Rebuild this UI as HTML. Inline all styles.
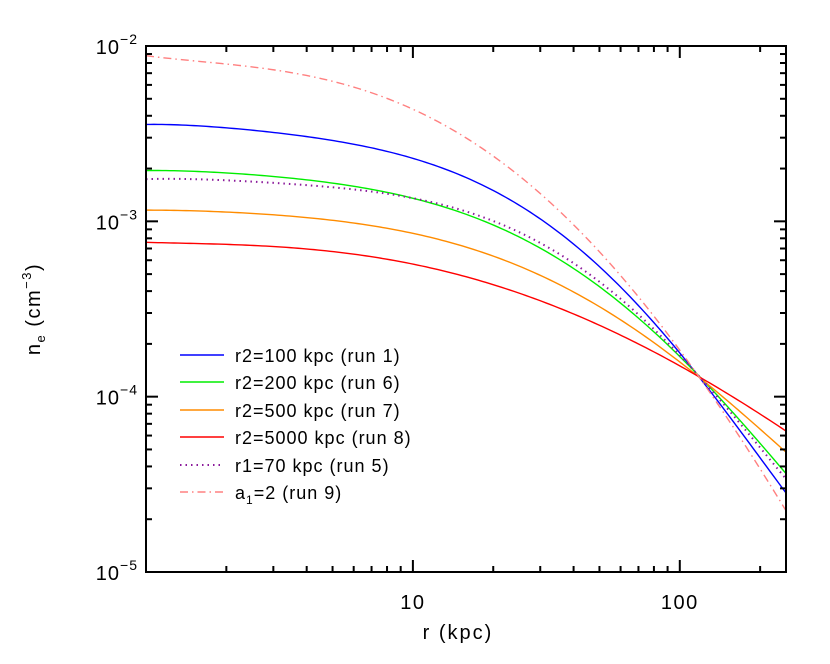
<!DOCTYPE html>
<html><head><meta charset="utf-8">
<style>
html,body{margin:0;padding:0;background:#fff;}
svg{display:block;font-family:"Liberation Sans","DejaVu Sans",sans-serif;}
</style></head>
<body>
<svg id="chart" width="830" height="664" viewBox="0 0 830 664" xmlns="http://www.w3.org/2000/svg">
<rect x="0" y="0" width="830" height="664" fill="#fff"/>
<g id="curves"></g>
<g id="axes"></g>
<g id="legend"></g>
<text x="458" y="639" font-size="20" letter-spacing="2" text-anchor="middle">r (kpc)</text>
<text transform="translate(40,309) rotate(-90)" font-size="20" letter-spacing="1.5" text-anchor="middle">n<tspan font-size="13" dy="5">e</tspan><tspan dy="-5"> (cm</tspan><tspan font-size="13" dy="-9">−3</tspan><tspan dy="9">)</tspan></text>
</svg>
<script>
const radii = [1, 2, 3, 5, 7, 10, 21.2, 32.6, 42.2, 59.2, 76.8, 122.7, 250];
const run1 = [3.57e-3, 3.40e-3, 3.24e-3, 2.91e-3, 2.61e-3, 2.24e-3, 1.45e-3, 9.75e-4, 6.87e-4, 4.24e-4, 2.75e-4, 1.24e-4, 2.81e-5];
const run6 = [1.95e-3, 1.88e-3, 1.81e-3, 1.66e-3, 1.52e-3, 1.34e-3, 9.31e-4, 6.43e-4, 5.16e-4, 3.48e-4, 2.45e-4, 1.24e-4, 3.64e-5];
const run7 = [1.16e-3, 1.12e-3, 1.10e-3, 1.02e-3, 9.44e-4, 8.36e-4, 6.28e-4, 4.62e-4, 3.75e-4, 2.80e-4, 2.10e-4, 1.24e-4, 4.82e-5];
const run8 = [7.59e-4, 7.40e-4, 7.16e-4, 6.70e-4, 6.34e-4, 5.70e-4, 4.24e-4, 3.33e-4, 2.83e-4, 2.30e-4, 1.88e-4, 1.24e-4, 6.38e-5];
const run5 = [1.74e-3, 1.71e-3, 1.66e-3, 1.57e-3, 1.48e-3, 1.34e-3, 9.82e-4, 6.92e-4, 5.52e-4, 3.72e-4, 2.51e-4, 1.24e-4, 3.39e-5];
const run9 = [8.77e-3, 7.96e-3, 7.36e-3, 6.25e-3, 5.37e-3, 4.22e-3, 2.40e-3, 1.27e-3, 8.51e-4, 5.01e-4, 3.02e-4, 1.24e-4, 2.22e-5];
const seriesLabels = ["r2=100 kpc (run 1)", "r2=200 kpc (run 6)", "r2=500 kpc (run 7)", "r2=5000 kpc (run 8)", "r1=70 kpc (run 5)", "(run 9)"];
const yTickExps = [-2, -3, -4, -5];
const xTickLabels = [10, 100];

const NS = "http://www.w3.org/2000/svg";
const L = 146, R = 786, T = 46, B = 572;
const xMin = 1, xMax = 250, yMin = 1e-5, yMax = 1e-2;
function xs(v){ return L + (Math.log10(v) - Math.log10(xMin)) / (Math.log10(xMax) - Math.log10(xMin)) * (R - L); }
function ys(v){ return B - (Math.log10(v) - Math.log10(yMin)) / (Math.log10(yMax) - Math.log10(yMin)) * (B - T); }
function mk(tag, attrs, parent){ const e = document.createElementNS(NS, tag); for (const k in attrs) e.setAttribute(k, attrs[k]); parent.appendChild(e); return e; }

function fitPoly(tx, ty, deg){
  const n = deg+1, A = [], b = [];
  for (let i=0;i<n;i++){ A.push(new Array(n).fill(0)); b.push(0); }
  for (let k=0;k<tx.length;k++){
    for (let i=0;i<n;i++){
      b[i] += ty[k]*Math.pow(tx[k],i);
      for (let j=0;j<n;j++) A[i][j] += Math.pow(tx[k],i+j);
    }
  }
  for (let c=0;c<n;c++){
    let p=c; for (let r=c+1;r<n;r++) if (Math.abs(A[r][c])>Math.abs(A[p][c])) p=r;
    [A[c],A[p]]=[A[p],A[c]]; [b[c],b[p]]=[b[p],b[c]];
    for (let r=0;r<n;r++){ if (r===c) continue; const f=A[r][c]/A[c][c];
      for (let j=c;j<n;j++) A[r][j]-=f*A[c][j]; b[r]-=f*b[c]; }
  }
  return b.map((v,i)=>v/A[i][i]);
}
function pathFor(vals){
  const lx0 = Math.log10(radii[0]), lx1 = Math.log10(radii[radii.length-1]);
  const tx = radii.map(r=>(Math.log10(r)-lx0)/(lx1-lx0));
  const ty = vals.map(v=>Math.log10(v));
  const c = fitPoly(tx, ty, 5);
  let d = "";
  for (let i=0;i<=160;i++){
    const t = i/160;
    let ly = 0; for (let k=c.length-1;k>=0;k--) ly = ly*t + c[k];
    const r = Math.pow(10, lx0 + t*(lx1-lx0));
    d += (i?" L":"M") + xs(r).toFixed(2) + "," + ys(Math.pow(10,ly)).toFixed(2);
  }
  return d;
}

const series = [
  {vals: run1, color: "#0000ff", dash: null, name: "run-1"},
  {vals: run6, color: "#00ee00", dash: null, name: "run-6"},
  {vals: run7, color: "#ff8c00", dash: null, name: "run-7"},
  {vals: run8, color: "#ff0000", dash: null, name: "run-8"},
  {vals: run5, color: "#8b1a9b", dash: "1.5,4", name: "run-5"},
  {vals: run9, color: "#ff8080", dash: "8,4,1.5,4", name: "run-9"}
];
const cg = document.getElementById("curves");
series.forEach(s=>{
  const el = mk("path", {d: pathFor(s.vals), fill:"none", stroke:s.color, "stroke-width": s.dash && s.dash.startsWith("1.5")?"2":"1.4"}, cg);
  if (s.dash) el.setAttribute("stroke-dasharray", s.dash);
  
  
});

const ax = document.getElementById("axes");
const frame = mk("rect", {x:L, y:T, width:R-L, height:B-T, fill:"none", stroke:"#000", "stroke-width":"2"}, ax);


for (let dec=1; dec<=100; dec*=10){
  for (let m=1; m<=9; m++){
    const v = dec*m;
    if (v < xMin || v > xMax) continue;
    const x = xs(v), len = (m===1)?12:6;
    const t1 = mk("line", {x1:x, x2:x, y1:B, y2:B-len, stroke:"#000", "stroke-width":"2"}, ax);
    
    
    const t2 = mk("line", {x1:x, x2:x, y1:T, y2:T+len, stroke:"#000", "stroke-width":"2"}, ax);
    
    
  }
}
xTickLabels.forEach(v=>{
  const t = mk("text", {x:xs(v), y:B+37, "font-size":"20", "letter-spacing":"1.5", "text-anchor":"middle"}, ax);
  t.textContent = v;
  
  
});
for (let e=-5; e<=-3; e++){
  for (let m=1; m<=9; m++){
    const v = m*Math.pow(10,e);
    const y = ys(v), len = (m===1)?12:6;
    const t1 = mk("line", {x1:L, x2:L+len, y1:y, y2:y, stroke:"#000", "stroke-width":"2"}, ax);
    
    
    const t2 = mk("line", {x1:R, x2:R-len, y1:y, y2:y, stroke:"#000", "stroke-width":"2"}, ax);
    
    
  }
}
yTickExps.forEach(e=>{
  const y = ys(Math.pow(10,e));
  const t = mk("text", {x:138, y:y+8, "font-size":"20", "letter-spacing":"1", "text-anchor":"end"}, ax);
  t.innerHTML = '10<tspan font-size="14" dy="-10">−' + (-e) + '</tspan>';
  
  
});

const lg = document.getElementById("legend");
const rowY = [355, 382, 410, 437, 465, 492];
series.forEach((s,i)=>{
  const ln = mk("line", {x1:180, x2:224, y1:rowY[i], y2:rowY[i], stroke:s.color, "stroke-width": s.dash && s.dash.startsWith("1.5")?"2":"1.4"}, lg);
  if (s.dash) ln.setAttribute("stroke-dasharray", s.dash);
  
  
  const t = mk("text", {x:235, y:rowY[i]+7, "font-size":"18", "letter-spacing":"1"}, lg);
  if (i === 5) t.innerHTML = 'a<tspan font-size="12" dy="5">1</tspan><tspan dy="-5">=2 ' + seriesLabels[i] + '</tspan>';
  else t.textContent = seriesLabels[i];
  
  
});
</script>
</body></html>
